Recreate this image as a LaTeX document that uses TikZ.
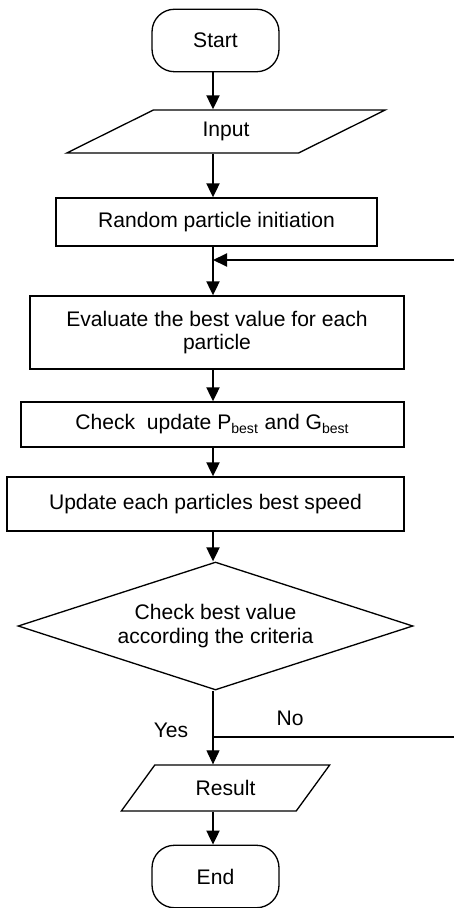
\documentclass[tikz,border=0pt]{standalone}
\usepackage{fontspec}
\setmainfont{Liberation Sans}
\usetikzlibrary{shapes.geometric,arrows.meta}
\tikzset{>={Triangle[width=0.26cm,length=0.28cm]},
  every node/.style={font=\fontsize{12}{13.5}\selectfont},
  process/.style={draw,line width=0.75pt,rectangle,inner sep=0pt,align=center},
  terminal/.style={draw,line width=0.75pt,rectangle,rounded corners=0.45cm,minimum width=2.54cm,minimum height=1.25cm},
  io/.style={draw,line width=0.75pt,trapezium,trapezium stretches=true,inner sep=0pt},
  decision/.style={draw,line width=0.75pt,diamond,shape aspect=3.1,inner sep=0pt,align=center},
  flow/.style={->,line width=1.1pt}}

\begin{document}
\begin{tikzpicture}[x=0.02cm,y=-0.02cm]
            \useasboundingbox (0,0) rectangle (454,908);
            \node[terminal] (start) at (215.5,40.5){Start};
            \node[io,trapezium left angle=34,trapezium right angle=146,minimum width=6.4cm,minimum height=0.86cm] (input) at (226,131.5){Input};
            \node[process,minimum width=6.42cm,minimum height=0.96cm] (init) at (216.5,222){Random particle initiation};
            \node[process,minimum width=7.48cm,minimum height=1.46cm] (eval) at (217,332.5){Evaluate the best value for each\\particle};
            \node[process,minimum width=7.66cm,minimum height=0.9cm] (check) at (212.5,424.5){Check\ \ update P\textsubscript{best} and G\textsubscript{best}};
            \node[process,minimum width=7.94cm,minimum height=1.08cm] (speed) at (205.5,504){Update each particles best speed};
            \node[decision,minimum width=7.9cm,minimum height=2.56cm] (crit) at (215.5,626){Check best value\\according the criteria};
            \node[io,trapezium left angle=47.6,trapezium right angle=132.4,minimum width=4.18cm,minimum height=0.92cm] (result) at (225.5,788){Result};
            \node[terminal] (end) at (215.5,876.5){End};
            \node (yes) at (171,730){Yes};
            \node (no) at (290,718){No};
            \coordinate (spine) at (213,0);
            \coordinate (loop) at (454,260);
            \coordinate (noend) at (454,737);
            \draw[flow] (spine |- start.south) -- (spine |- input.north);
            \draw[flow] (spine |- input.south) -- (spine |- init.north);
            \draw[flow] (spine |- init.south) -- (spine |- eval.north);
            \draw[flow] (loop) -- (spine |- loop);
            \draw[flow] (spine |- eval.south) -- (spine |- check.north);
            \draw[flow] (spine |- check.south) -- (spine |- speed.north);
            \draw[flow] (spine |- speed.south) -- (spine |- crit.north);
            \draw[->,line width=0.6pt] (spine |- crit.south) -- (spine |- result.north);
            \draw[line width=1.1pt] (spine |- noend) -- (noend);
            \draw[flow] (spine |- result.south) -- (spine |- end.north);
        \end{tikzpicture}
\end{document}
